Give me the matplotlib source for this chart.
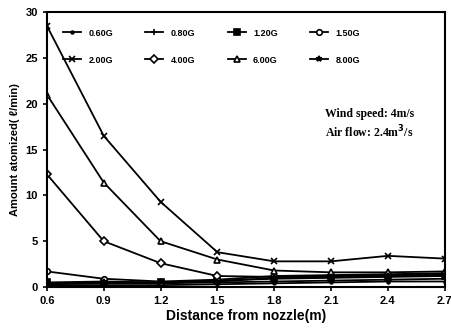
import matplotlib
matplotlib.use('Agg')
import matplotlib.pyplot as plt

# distance from nozzle (m)
distance = [0.6, 0.9, 1.2, 1.5, 1.8, 2.1, 2.4, 2.7]
labels = ['0.60G', '0.80G', '1.20G', '1.50G', '2.00G', '4.00G', '6.00G', '8.00G']

# amount atomized (l/min) per series
s060 = [0.2, 0.2, 0.2, 0.3, 0.4, 0.5, 0.6, 0.6]
s080 = [0.3, 0.4, 0.4, 0.5, 0.6, 0.7, 0.8, 0.9]
s120 = [0.5, 0.6, 0.5, 0.7, 0.9, 1.0, 1.1, 1.2]
s150 = [1.7, 0.9, 0.6, 0.8, 1.2, 1.3, 1.4, 1.5]
s200 = [28.5, 16.5, 9.3, 3.8, 2.8, 2.8, 3.4, 3.1]
s400 = [12.3, 5.0, 2.6, 1.2, 1.1, 1.2, 1.3, 1.4]
s600 = [21.0, 11.4, 5.0, 3.0, 1.8, 1.6, 1.6, 1.7]
s800 = [0.4, 0.5, 0.5, 0.6, 1.0, 1.1, 1.2, 1.3]

series = [s060, s080, s120, s150, s200, s400, s600, s800]
markers = ['.', '+', 's', 'o', 'x', 'D', '^', '*']
filled = [True, True, True, False, True, False, False, True]

plt.rcParams['font.family'] = 'Liberation Sans'
plt.rcParams['font.weight'] = 'bold'

fig = plt.figure(figsize=(4.51, 3.28), dpi=100)
ax = fig.add_axes([0.104, 0.125, 0.882, 0.838])

handles = []
for ys, lab, m, f in zip(series, labels, markers, filled):
    h, = ax.plot(distance, ys, color='black', lw=1.3, marker=m, markersize=4,
                 markerfacecolor='black' if f else 'white', markeredgecolor='black',
                 markeredgewidth=1.2, label=lab)
    handles.append(h)

ax.set_xlim(0.6, 2.7)
ax.set_ylim(0, 30)
ax.set_xticks(distance)
ax.set_xticklabels(['0.6', '0.9', '1.2', '1.5', '1.8', '2.1', '2.4', '2.7'])
ax.set_yticks([0, 5, 10, 15, 20, 25, 30])
ax.tick_params(labelsize=8, length=3, width=1.2)
for sp in ax.spines.values():
    sp.set_linewidth(1.5)

ax.set_xlabel('Distance from nozzle(m)', fontsize=10, fontweight='bold', labelpad=2)
ax.set_ylabel('Amount atomized( ℓ/min)', fontsize=8, fontweight='bold', labelpad=4)

# legend fills row by row in the reference: reorder for column-wise filling
order = [0, 4, 1, 5, 2, 6, 3, 7]
ax.legend([handles[i] for i in order], [labels[i] for i in order],
          ncol=4, frameon=False, fontsize=6.5, loc='upper left',
          bbox_to_anchor=(0.02, 0.97), handlelength=2.0, columnspacing=3.6,
          labelspacing=2.0)

ax.text(0.70, 0.62, 'Wind speed: 4m/s', transform=ax.transAxes,
        fontsize=8.5, fontfamily='Liberation Serif', fontweight='bold')
ax.text(0.70, 0.545, 'Air flow: 2.4m$^3$/s', transform=ax.transAxes,
        fontsize=8.5, fontfamily='Liberation Serif', fontweight='bold')

plt.savefig('out.png', dpi=100)
